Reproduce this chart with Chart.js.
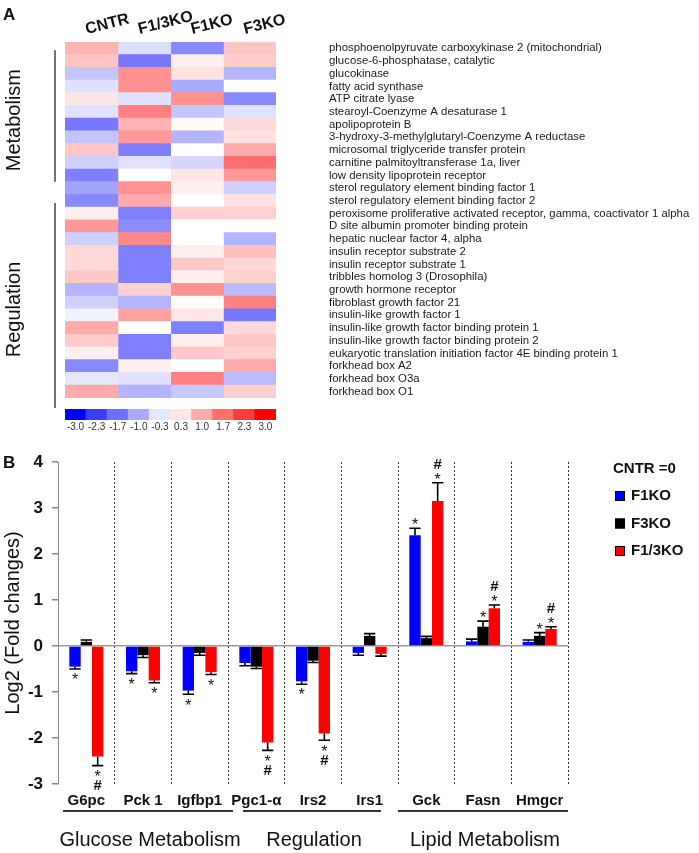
<!DOCTYPE html>
<html><head><meta charset="utf-8">
<script src="https://cdn.jsdelivr.net/npm/chart.js@4.4.0/dist/chart.umd.min.js"></script>
<style>
html,body{margin:0;padding:0;background:#fff;}
#wrap{position:relative;width:699px;height:853px;overflow:hidden;background:#fff;}
canvas{position:absolute;left:0;}
</style></head><body>
<div id="wrap">
<canvas id="heat" width="699" height="412" style="top:0px"></canvas>
<canvas id="cbar" width="699" height="32" style="top:405px"></canvas>
<canvas id="bars" width="699" height="413" style="top:440px"></canvas>
</div>
<script>
const FONT = "'Liberation Sans', Arial, Helvetica, sans-serif";
Chart.defaults.font.family = FONT;

// ---------- Panel A data ----------
const heatColumns = ['CNTR', 'F1/3KO', 'F1KO', 'F3KO'];
const heatGenes = [
  'phosphoenolpyruvate carboxykinase 2 (mitochondrial)',
  'glucose-6-phosphatase, catalytic',
  'glucokinase',
  'fatty acid synthase',
  'ATP citrate lyase',
  'stearoyl-Coenzyme A desaturase 1',
  'apolipoprotein B',
  '3-hydroxy-3-methylglutaryl-Coenzyme A reductase',
  'microsomal triglyceride transfer protein',
  'carnitine palmitoyltransferase 1a, liver',
  'low density lipoprotein receptor',
  'sterol regulatory element binding factor 1',
  'sterol regulatory element binding factor 2',
  'peroxisome proliferative activated receptor, gamma, coactivator 1 alpha',
  'D site albumin promoter binding protein',
  'hepatic nuclear factor 4, alpha',
  'insulin receptor substrate 2',
  'insulin receptor substrate 1',
  'tribbles homolog 3 (Drosophila)',
  'growth hormone receptor',
  'fibroblast growth factor 21',
  'insulin-like growth factor 1',
  'insulin-like growth factor binding protein 1',
  'insulin-like growth factor binding protein 2',
  'eukaryotic translation initiation factor 4E binding protein 1',
  'forkhead box A2',
  'forkhead box O3a',
  'forkhead box O1'
];
const heatCNTR  = [0.9, 0.7, -0.7, -0.35, 0.3, -0.35, -1.6, -0.7, 0.65, -0.55, -1.5, -1.1, -1.4, 0.2, 1.2, -0.55, 0.45, 0.45, 0.65, -0.9, -0.55, -0.15, 1.0, 0.6, 0.2, -1.4, -0.3, 1.0];
const heatF13KO = [-0.4, -1.6, 1.3, 1.3, -0.35, 1.5, 0.9, 1.2, -1.5, -0.35, 0, 1.3, 1.0, -1.5, -1.35, 1.4, -1.5, -1.5, -1.5, 0.55, -0.9, 1.1, 0, -1.5, -1.5, 0.2, -0.35, -0.9];
const heatF1KO  = [-1.4, 0.2, 0.35, -1.0, 1.3, -0.7, 0.05, -0.9, 0, -0.5, 0.3, 0.2, 0, 0.55, 0, 0, 0.2, 0.65, 0.2, 1.3, 0.05, 0.3, -1.5, 0.2, 0.65, 0, 1.5, -0.65];
const heatF3KO  = [0.7, 0.6, -0.9, 0, -1.4, -0.35, 0.45, 0.35, 1.0, 1.7, 1.2, -0.55, 0.35, 0.55, 0, -0.9, 0.75, 0.45, 0.55, -0.8, 1.5, -1.6, 0.45, 0.65, 0.55, 1.0, -0.8, 0.55];
const colorbarTicks = ['-3.0', '-2.3', '-1.7', '-1.0', '-0.3', '0.3', '1.0', '1.7', '2.3', '3.0'];
const sectionNames = ['Metabolism', 'Regulation'];
const sectionFirstRow = [0, 12];
const sectionLastRow = [10, 27];

// ---------- Panel B data ----------
const barGenes = ['G6pc', 'Pck 1', 'Igfbp1', 'Pgc1-α', 'Irs2', 'Irs1', 'Gck', 'Fasn', 'Hmgcr'];
const barSeriesNames = ['F1KO', 'F3KO', 'F1/3KO'];
const valF1KO  = [-0.45, -0.55, -0.97, -0.37, -0.77, -0.15, 2.41, 0.10, 0.09];
const valF3KO  = [0.09, -0.20, -0.15, -0.45, -0.32, 0.22, 0.17, 0.42, 0.22];
const valF13KO = [-2.40, -0.75, -0.57, -2.10, -1.90, -0.17, 3.15, 0.82, 0.37];
const errF1KO  = [0.05, 0.05, 0.08, 0.06, 0.06, 0.05, 0.15, 0.05, 0.04];
const errF3KO  = [0.04, 0.05, 0.05, 0.04, 0.04, 0.05, 0.04, 0.12, 0.07];
const errF13KO = [0.20, 0.05, 0.05, 0.17, 0.15, 0.05, 0.40, 0.07, 0.05];
const starF1KO  = [1, 1, 1, 0, 1, 0, 1, 0, 0];
const starF3KO  = [0, 0, 0, 0, 0, 0, 0, 1, 1];
const starF13KO = [1, 1, 1, 1, 1, 0, 1, 1, 1];
const hashF1KO  = [0, 0, 0, 0, 0, 0, 0, 0, 0];
const hashF3KO  = [0, 0, 0, 0, 0, 0, 0, 0, 0];
const hashF13KO = [1, 0, 0, 1, 1, 0, 1, 1, 1];
const groupNames = ['Glucose Metabolism', 'Regulation', 'Lipid Metabolism'];
const groupFirst = [0, 3, 6];
const groupLast = [2, 5, 8];
const yTickMin = -3, yTickMax = 4;
const legendTitle = 'CNTR =0';

// ---------- helpers ----------
function heatColor(v) {
  const t = Math.min(1, Math.abs(v) / 3);
  const c = Math.round(255 * (1 - t));
  return v >= 0 ? `rgb(255,${c},${c})` : `rgb(${c},${c},255)`;
}
const seriesColors = ['#0000ff', '#000000', '#ff0000'];

// ---------- Heatmap ----------
const heatSeries = [heatCNTR, heatF13KO, heatF1KO, heatF3KO];
const heatDeco = {
  id: 'heatDeco',
  afterDraw(chart) {
    const c = chart.ctx, y = chart.scales.y;
    const rh = y.getPixelForValue(1) - y.getPixelForValue(0);
    const lx = chart.chartArea.left - 10;
    c.save();
    c.fillStyle = '#111';
    c.font = `bold 17px ${FONT}`;
    c.textAlign = 'left'; c.textBaseline = 'alphabetic';
    c.fillText('A', 3, 20);
    const extra = [0, 10];
    sectionNames.forEach((name, k) => {
      const y0 = y.getPixelForValue(sectionFirstRow[k]) + 2;
      const y1 = y.getPixelForValue(sectionLastRow[k]) + rh / 2 + extra[k];
      c.strokeStyle = '#444'; c.lineWidth = 1.5;
      c.beginPath(); c.moveTo(lx, y0); c.lineTo(lx, y1); c.stroke();
      c.save();
      c.translate(20, (y0 + y1) / 2 + 4);
      c.rotate(-Math.PI / 2);
      c.font = `20px ${FONT}`; c.textAlign = 'center'; c.textBaseline = 'alphabetic'; c.fillStyle = '#111';
      c.fillText(name, 0, 0);
      c.restore();
    });
    c.restore();
  }
};

new Chart(document.getElementById('heat'), {
  type: 'bar',
  data: {
    labels: heatGenes,
    datasets: heatSeries.map((vals, j) => ({
      label: heatColumns[j],
      data: vals.map(() => [j, j + 1]),
      backgroundColor: vals.map(heatColor),
      borderWidth: 0,
      inflateAmount: 0.5,
      barPercentage: 1,
      categoryPercentage: 1,
      grouped: false
    }))
  },
  options: {
    indexAxis: 'y',
    responsive: false, animation: false, devicePixelRatio: 1,
    layout: { padding: { left: 65, right: 0, top: 0, bottom: 14 } },
    plugins: { legend: { display: false }, tooltip: { enabled: false } },
    scales: {
      x: { type: 'linear', min: 0, max: 4, display: false },
      xTop: {
        type: 'category', labels: heatColumns, position: 'top', offset: true,
        grid: { display: false, drawTicks: false }, border: { display: false },
        ticks: { font: { size: 16, weight: 'bold' }, color: '#111', minRotation: 14, maxRotation: 14, padding: 3, labelOffset: -1, autoSkip: false },
        afterFit(s) { s.height = 42; s.paddingLeft = 0; s.paddingRight = 0; }
      },
      y: {
        type: 'category', position: 'right', offset: true,
        grid: { display: false, drawTicks: false }, border: { display: false },
        ticks: { font: { size: 11.4 }, color: '#1a1a1a', padding: 53, autoSkip: false },
        afterFit(s) { s.width = 423; s.paddingTop = 0; s.paddingBottom = 0; }
      }
    }
  },
  plugins: [heatDeco]
});

// ---------- Colour bar ----------
new Chart(document.getElementById('cbar'), {
  type: 'bar',
  data: {
    labels: colorbarTicks,
    datasets: [{
      data: colorbarTicks.map(() => 1),
      backgroundColor: colorbarTicks.map(t => heatColor(parseFloat(t))),
      borderWidth: 0, barPercentage: 1, categoryPercentage: 1, inflateAmount: 0.5
    }]
  },
  options: {
    responsive: false, animation: false, devicePixelRatio: 1,
    layout: { padding: { left: 65, right: 423, top: 4, bottom: 0 } },
    plugins: { legend: { display: false }, tooltip: { enabled: false } },
    scales: {
      y: { display: false, min: 0, max: 1 },
      x: {
        grid: { display: false, drawTicks: false }, border: { display: false },
        ticks: { font: { size: 10 }, color: '#333', padding: 1, maxRotation: 0, autoSkip: false },
        afterFit(s) { s.height = 17; s.paddingLeft = 0; s.paddingRight = 0; }
      }
    }
  }
});

// ---------- Bar chart ----------
const barValues = [valF1KO, valF3KO, valF13KO];
const barErrors = [errF1KO, errF3KO, errF13KO];
const barStars = [starF1KO, starF3KO, starF13KO];
const barHashes = [hashF1KO, hashF3KO, hashF13KO];

function drawMark(c, m, x, cy) {
  c.textAlign = 'center'; c.textBaseline = 'alphabetic'; c.fillStyle = '#111';
  if (m === '*') { c.font = `16px ${FONT}`; c.fillText('*', x, cy + 9.2); }
  else { c.font = `bold 15px ${FONT}`; c.fillText('#', x, cy + 5.4); }
}

const barDeco = {
  id: 'barDeco',
  afterDatasetsDraw(chart) {
    const c = chart.ctx, ys = chart.scales.y;
    c.save();
    barErrors.forEach((errs, di) => {
      const meta = chart.getDatasetMeta(di);
      const vals = chart.data.datasets[di].data;
      meta.data.forEach((el, i) => {
        const v = vals[i], e = errs[i], s = v >= 0 ? 1 : -1;
        const x = el.x, w = el.width;
        const yv = ys.getPixelForValue(v), ye = ys.getPixelForValue(v + s * e);
        c.strokeStyle = '#000'; c.lineWidth = 1.6;
        c.beginPath();
        c.moveTo(x, yv); c.lineTo(x, ye);
        c.moveTo(x - w * 0.5, ye); c.lineTo(x + w * 0.5, ye);
        c.stroke();
        const marks = [];
        if (barStars[di][i]) marks.push('*');
        if (barHashes[di][i]) marks.push('#');
        let cy = ye - s * 7;
        marks.forEach(m => { drawMark(c, m, x, cy); cy -= s * 12; });
      });
    });
    c.restore();
  },
  afterDraw(chart) {
    const c = chart.ctx, xs = chart.scales.x, area = chart.chartArea;
    const cw = (xs.right - xs.left) / barGenes.length;
    c.save();
    c.fillStyle = '#111'; c.font = `bold 17px ${FONT}`; c.textAlign = 'left'; c.textBaseline = 'alphabetic';
    c.fillText('B', 3, 28);
    const insetL = [5, 15, 0], insetR = [-5, 17, 0];
    groupNames.forEach((g, k) => {
      const x0 = xs.getPixelForValue(groupFirst[k]) - cw / 2 + insetL[k];
      const x1 = xs.getPixelForValue(groupLast[k]) + cw / 2 - insetR[k];
      const yl = area.bottom + 27;
      c.strokeStyle = '#333'; c.lineWidth = 2;
      c.beginPath(); c.moveTo(x0, yl); c.lineTo(x1, yl); c.stroke();
      c.fillStyle = '#111'; c.font = `20px ${FONT}`; c.textAlign = 'center'; c.textBaseline = 'middle';
      c.fillText(g, (x0 + x1) / 2 + 2, yl + 29);
    });
    const lx = area.right + 45;
    c.fillStyle = '#111'; c.font = `bold 15px ${FONT}`; c.textAlign = 'left'; c.textBaseline = 'middle';
    c.fillText(legendTitle, lx, area.top + 7);
    chart.data.datasets.forEach((ds, i) => {
      const yy = area.top + 34 + i * 27.5;
      c.fillStyle = ds.backgroundColor;
      c.fillRect(lx + 2, yy - 5, 10, 10);
      c.strokeStyle = '#000'; c.lineWidth = 1;
      c.strokeRect(lx + 2.5, yy - 4.5, 9, 9);
      c.fillStyle = '#111';
      c.fillText(ds.label, lx + 18, yy);
    });
    c.restore();
  }
};

new Chart(document.getElementById('bars'), {
  type: 'bar',
  data: {
    labels: barGenes,
    datasets: barValues.map((vals, i) => ({
      label: barSeriesNames[i], data: vals, backgroundColor: seriesColors[i],
      borderWidth: 0, categoryPercentage: 0.6, barPercentage: 1
    }))
  },
  options: {
    responsive: false, animation: false, devicePixelRatio: 1,
    layout: { padding: { left: 0, right: 131, top: 22, bottom: 0 } },
    plugins: { legend: { display: false }, tooltip: { enabled: false } },
    scales: {
      x: {
        grid: { color: c => c.index === 0 ? 'rgba(0,0,0,0)' : '#333', lineWidth: 1, drawTicks: false, borderDash: [2, 2] },
        border: { display: false, dash: [2, 2] },
        ticks: { font: { size: 15, weight: 'bold' }, color: '#111', padding: 8, maxRotation: 0, autoSkip: false },
        afterFit(s) { s.height = 69; s.paddingLeft = 0; s.paddingRight = 0; }
      },
      y: {
        min: yTickMin, max: yTickMax,
        ticks: { stepSize: 1, font: { size: 17, weight: 'bold' }, color: '#111', padding: 9 },
        grid: { color: c => (c.tick && c.tick.value === 0) ? '#9a9a9a' : 'rgba(0,0,0,0)', lineWidth: 1.5, tickColor: '#888', tickLength: 6, drawTicks: true },
        border: { color: '#888', width: 1 },
        title: { display: true, text: 'Log2 (Fold changes)', font: { size: 20 }, color: '#111', padding: { top: 1, bottom: 0 } },
        afterFit(s) { s.width = 58; s.paddingTop = 0; s.paddingBottom = 0; }
      }
    }
  },
  plugins: [barDeco]
});
</script>
</body></html>
